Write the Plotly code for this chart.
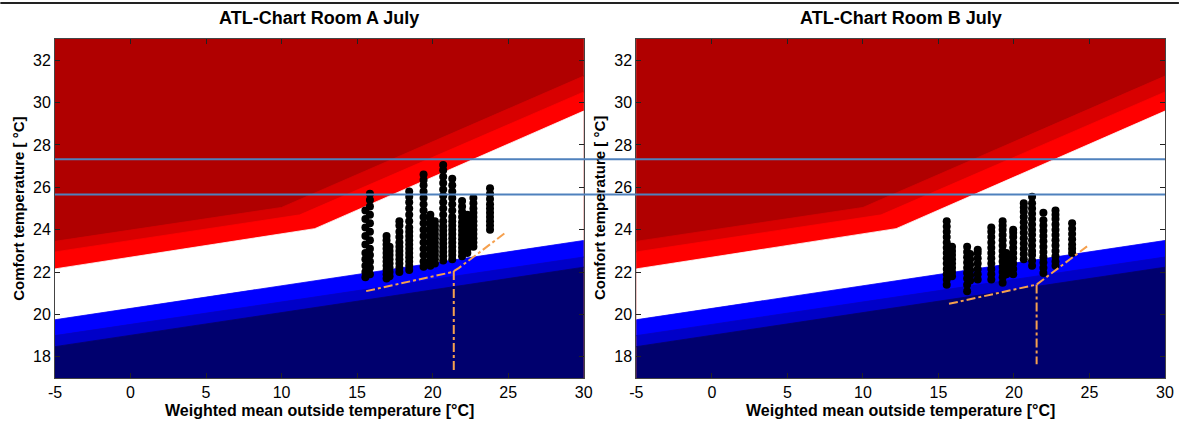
import plotly.graph_objects as go
from plotly.subplots import make_subplots

# ---------------- data ----------------
titles = ["ATL-Chart Room A July", "ATL-Chart Room B July"]
x_title = "Weighted mean outside temperature [°C]"
y_title = "Comfort temperature [ °C]"
x_ticks = [-5, 0, 5, 10, 15, 20, 25, 30]
x_ticklabels = ["-5", "0", "5", "10", "15", "20", "25", "30"]
y_ticks = [18, 20, 22, 24, 26, 28, 30, 32]

# ATL band boundaries (x breakpoints and comfort temperatures)
edge_dark_x = [-5, 10.0, 30]
edge_dark_y = [23.45, 25.05, 31.25]     # mid red / dark red
edge_mid_x = [-5, 11.2, 30]
edge_mid_y = [22.95, 24.7, 30.5]        # red / mid red
edge_white_x = [-5, 12.2, 30]
edge_white_y = [22.15, 24.05, 29.6]     # white / red
low_white_x = [-5, 30]
low_white_y = [19.75, 23.49]            # white / blue
low_mid_x = [-5, 30]
low_mid_y = [19.0, 22.71]               # blue / mid blue
low_dark_x = [-5, 30]
low_dark_y = [18.48, 22.23]             # mid blue / dark blue

# Reference horizontal limits
limit_lines = [27.33, 25.66]

# Measured points, Room A (column x, list of comfort temperatures)
roomA_x = [15.55, 15.85, 16.95, 17.15, 17.8, 18.45, 19.4, 19.85, 20.15, 20.7, 21.3, 21.95, 22.3, 22.7, 23.8]
roomA_y = [
    [21.75, 22.0, 22.3, 22.6, 22.9, 23.3, 23.7, 24.1, 24.5, 24.9],
    [21.9, 22.2, 22.5, 22.8, 23.1, 23.5, 23.9, 24.3, 24.7, 25.1, 25.4, 25.7],
    [21.7, 21.9, 22.1, 22.3, 22.5, 22.7, 22.9, 23.1, 23.3, 23.5, 23.7],
    [21.8, 22.0, 22.2, 22.4, 22.6, 22.8, 23.0, 23.2],
    [22.0, 22.2, 22.4, 22.6, 22.8, 23.0, 23.2, 23.4, 23.65, 23.9, 24.2, 24.4],
    [22.1, 22.3, 22.5, 22.7, 22.9, 23.1, 23.3, 23.5, 23.7, 23.9, 24.1, 24.4, 24.7, 25.0, 25.3, 25.55, 25.8],
    [22.25, 22.5, 22.8, 23.1, 23.4, 23.7, 24.0, 24.3, 24.6, 24.9, 25.2, 25.5, 25.8, 26.1, 26.35, 26.6],
    [22.3, 22.5, 22.7, 22.9, 23.1, 23.3, 23.5, 23.7, 23.9, 24.1, 24.3, 24.5, 24.7],
    [22.4, 22.6, 22.8, 23.0, 23.2, 23.4, 23.6, 23.8, 24.0, 24.2, 24.4],
    [22.55, 22.75, 22.95, 23.15, 23.35, 23.55, 23.75, 23.95, 24.15, 24.4, 24.7, 25.0, 25.3, 25.6, 25.9, 26.2, 26.5, 26.8, 27.05],
    [22.6, 22.8, 23.0, 23.2, 23.4, 23.6, 23.8, 24.0, 24.2, 24.4, 24.6, 24.9, 25.2, 25.5, 25.8, 26.1, 26.4],
    [22.75, 22.95, 23.15, 23.35, 23.55, 23.75, 23.95, 24.15, 24.35, 24.6, 24.85, 25.1, 25.35],
    [22.9, 23.1, 23.3, 23.5, 23.7, 23.9, 24.1, 24.3, 24.5, 24.7],
    [23.2, 23.4, 23.6, 23.8, 24.0, 24.2, 24.4, 24.6, 24.8, 25.0, 25.25, 25.5],
    [24.0, 24.2, 24.4, 24.6, 24.8, 25.0, 25.2, 25.45, 25.7, 25.95],
]

# Measured points, Room B
roomB_x = [15.55, 15.9, 16.9, 17.1, 17.6, 18.5, 19.25, 19.5, 19.95, 20.65, 21.2, 21.95, 22.75, 23.85]
roomB_y = [
    [21.4, 21.65, 21.9, 22.15, 22.4, 22.65, 22.9, 23.15, 23.4, 23.65, 23.9, 24.15, 24.4],
    [21.8, 22.0, 22.2, 22.4, 22.6, 22.8, 23.0, 23.2],
    [21.1, 21.4, 21.7, 21.95, 22.2, 22.45, 22.7, 22.95, 23.2],
    [21.6, 21.85, 22.1, 22.35, 22.6, 22.85],
    [21.65, 21.9, 22.15, 22.4, 22.65, 22.9, 23.05],
    [21.65, 21.9, 22.15, 22.4, 22.65, 22.9, 23.15, 23.4, 23.65, 23.9, 24.1],
    [21.5, 21.75, 22.0, 22.25, 22.5, 22.75, 23.0, 23.25, 23.5, 23.75, 24.0, 24.2, 24.4],
    [21.9, 22.1, 22.3, 22.5, 22.7, 22.9],
    [21.9, 22.15, 22.4, 22.65, 22.9, 23.15, 23.4, 23.65, 23.85, 24.0],
    [22.6, 22.85, 23.1, 23.35, 23.6, 23.85, 24.1, 24.35, 24.6, 24.85, 25.05, 25.25],
    [22.3, 22.55, 22.8, 23.0, 23.25, 23.5, 23.76, 24.0, 24.25, 24.5, 24.75, 25.0, 25.25, 25.55],
    [21.95, 22.2, 22.45, 22.7, 22.95, 23.2, 23.45, 23.7, 23.95, 24.2, 24.45, 24.8],
    [22.3, 22.5, 22.75, 23.0, 23.25, 23.5, 23.75, 24.0, 24.25, 24.5, 24.7, 24.9],
    [22.9, 23.1, 23.3, 23.55, 23.8, 24.05, 24.3],
]

# Orange dash-dot reference lines
orangeA_x = [15.6, 21.3, 21.75, 24.9]
orangeA_y = [21.1, 22.0, 22.2, 23.9]
orangeA_vx = [21.4, 21.4]
orangeA_vy = [22.05, 17.35]
orangeB_x = [15.7, 21.5, 25.0]
orangeB_y = [20.5, 21.41, 23.3]
orangeB_vx = [21.5, 21.5]
orangeB_vy = [21.41, 17.65]

# ---------------- styles ----------------
C_DARKRED = "#B00000"
C_MIDRED = "#D80000"
C_RED = "#FF0000"
C_WHITE = "#FFFFFF"
C_BLUE = "#0000FF"
C_MIDBLUE = "#0000C8"
C_NAVY = "#00006E"
C_ORANGE = "#F5A04E"
C_LIMIT = "#4F81BD"
FONT = "Arial, Liberation Sans, sans-serif"

W, H = 1186, 423
L, R, T, B = 55, 14, 39, 45
pw = W - L - R
ph = H - T - B
PAD = 1.0  # extend band edges past the axes so no seam shows at the plot border
Y_TOP, Y_BOT = 40.0, 10.0  # beyond the visible range, for closing polygons


def padded(xs, ys):
    """Extend a piecewise-linear edge a little beyond both ends (drawing only)."""
    s0 = (ys[1] - ys[0]) / (xs[1] - xs[0])
    s1 = (ys[-1] - ys[-2]) / (xs[-1] - xs[-2])
    return ([xs[0] - PAD] + list(xs) + [xs[-1] + PAD],
            [ys[0] - s0 * PAD] + list(ys) + [ys[-1] + s1 * PAD])


edges = [padded(a, b) for a, b in [(edge_dark_x, edge_dark_y), (edge_mid_x, edge_mid_y),
                                   (edge_white_x, edge_white_y), (low_white_x, low_white_y),
                                   (low_mid_x, low_mid_y), (low_dark_x, low_dark_y)]]
x_lo, x_hi = edges[0][0][0], edges[0][0][-1]
top_edge = ([x_lo, x_hi], [Y_TOP, Y_TOP])
bot_edge = ([x_lo, x_hi], [Y_BOT, Y_BOT])
all_edges = [top_edge] + edges + [bot_edge]
band_colors = [C_DARKRED, C_MIDRED, C_RED, C_WHITE, C_BLUE, C_MIDBLUE, C_NAVY]

fig = make_subplots(rows=1, cols=2, horizontal_spacing=(640 - 587) / pw)
fig.update_xaxes(domain=[0, 532 / pw], row=1, col=1)
fig.update_xaxes(domain=[(640 - L) / pw, 1], row=1, col=2)

rooms = [
    (roomA_x, roomA_y, orangeA_x, orangeA_y, orangeA_vx, orangeA_vy),
    (roomB_x, roomB_y, orangeB_x, orangeB_y, orangeB_vx, orangeB_vy),
]

for ci, (rx, ry, ox, oy, vx, vy) in enumerate(rooms, start=1):
    for k, col in enumerate(band_colors):
        ux, uy = all_edges[k]
        lx, ly = all_edges[k + 1]
        fig.add_trace(go.Scatter(x=list(ux) + list(lx)[::-1], y=list(uy) + list(ly)[::-1],
                                 mode="lines", line=dict(width=0.8, color=col),
                                 fill="toself", fillcolor=col, hoverinfo="skip",
                                 showlegend=False), row=1, col=ci)
    px, py = [], []
    for xv, ys in zip(rx, ry):
        for yv in ys:
            px.append(xv)
            py.append(yv)
    fig.add_trace(go.Scatter(x=px, y=py, mode="markers",
                             marker=dict(color="black", size=8, line=dict(width=0)),
                             showlegend=False), row=1, col=ci)
    fig.add_trace(go.Scatter(x=ox, y=oy, mode="lines",
                             line=dict(color=C_ORANGE, width=2, dash="dashdot"),
                             showlegend=False), row=1, col=ci)
    fig.add_trace(go.Scatter(x=vx, y=vy, mode="lines",
                             line=dict(color=C_ORANGE, width=2, dash="dashdot"),
                             showlegend=False), row=1, col=ci)

axis_common = dict(showline=True, linecolor="#444444", linewidth=1, mirror="ticks",
                   ticks="inside", ticklen=5, tickcolor="#222222", showgrid=False,
                   zeroline=False, tickfont=dict(family=FONT, size=16, color="black"))
fig.update_xaxes(range=[-5, 30], tickvals=x_ticks, ticktext=x_ticklabels, **axis_common)
fig.update_yaxes(range=[17, 33], tickvals=y_ticks, **axis_common)

annotations = []
centers = [(0 + 532 / pw) / 2, ((640 - L) / pw + 1) / 2]
for ci, t in enumerate(titles):
    annotations.append(dict(text="<b>%s</b>" % t, x=centers[ci], y=(H - B - 18) / ph,
                            xref="paper", yref="paper", showarrow=False,
                            font=dict(family=FONT, size=18, color="black"),
                            xanchor="center", yanchor="middle"))
    annotations.append(dict(text="<b>%s</b>" % x_title, x=centers[ci], y=(H - B - 410) / ph,
                            xref="paper", yref="paper", showarrow=False,
                            font=dict(family=FONT, size=16, color="black"),
                            xanchor="center", yanchor="middle"))
y_title_px = [18, 603]
for ci in range(2):
    annotations.append(dict(text="<b>%s</b>" % y_title, x=(y_title_px[ci] - L) / pw, y=0.5,
                            xref="paper", yref="paper", showarrow=False, textangle=-90,
                            font=dict(family=FONT, size=15, color="black"),
                            xanchor="center", yanchor="middle"))

shapes = []
for lv in limit_lines:
    shapes.append(dict(type="line", xref="paper", yref="y", x0=0, x1=1, y0=lv, y1=lv,
                       line=dict(color=C_LIMIT, width=2), layer="above"))
shapes.append(dict(type="line", xref="paper", yref="paper", x0=-L / pw, x1=(W - L) / pw,
                   y0=(H - B - 3) / ph, y1=(H - B - 3) / ph,
                   line=dict(color="#222222", width=2)))

fig.update_layout(width=W, height=H, margin=dict(l=L, r=R, t=T, b=B),
                  paper_bgcolor="white", plot_bgcolor=C_DARKRED,
                  annotations=annotations, shapes=shapes, showlegend=False,
                  font=dict(family=FONT, color="black"))

fig.write_html("out.html")
